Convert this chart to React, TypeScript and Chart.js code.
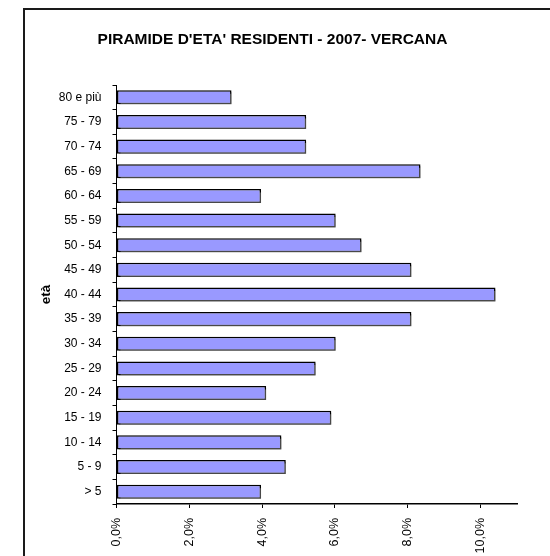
import React, { useEffect, useRef } from "react";
import { Chart, registerables } from "chart.js";

Chart.register(...registerables);

const TITLE = "PIRAMIDE D'ETA' RESIDENTI - 2007- VERCANA";
const AXIS_TITLE = "età";

const categories = [
  "80 e più",
  "75 - 79",
  "70 - 74",
  "65 - 69",
  "60 - 64",
  "55 - 59",
  "50 - 54",
  "45 - 49",
  "40 - 44",
  "35 - 39",
  "30 - 34",
  "25 - 29",
  "20 - 24",
  "15 - 19",
  "10 - 14",
  "5 - 9",
  "> 5",
];

const percentages = [
  3.16, 5.21, 5.21, 8.35, 3.97, 6.02, 6.73, 8.1, 10.41, 8.1, 6.02, 5.47, 4.11,
  5.9, 4.53, 4.65, 3.97,
];

const xMin = 0;
const xMax = 11;
const xStep = 2;

const FONT = "'Liberation Sans', Arial, Helvetica, sans-serif";

const framePlugin = {
  id: "frame",
  beforeDraw(chart: any) {
    const ctx = chart.ctx;
    ctx.save();
    ctx.fillStyle = "#ffffff";
    ctx.fillRect(0, 0, chart.width, chart.height);
    ctx.strokeStyle = "#1a1a1a";
    ctx.lineWidth = 2;
    ctx.beginPath();
    ctx.moveTo(24, chart.height + 5);
    ctx.lineTo(24, 9);
    ctx.lineTo(chart.width + 5, 9);
    ctx.stroke();
    ctx.restore();
  },
};

const shadowPlugin = {
  id: "barShadow",
  beforeDatasetsDraw(chart: any) {
    const ctx = chart.ctx;
    ctx.save();
    ctx.shadowColor = "rgba(120,120,120,0.6)";
    ctx.shadowOffsetX = 2;
    ctx.shadowOffsetY = 2;
    ctx.shadowBlur = 0;
  },
  afterDatasetsDraw(chart: any) {
    chart.ctx.restore();
  },
};

export default function App() {
  const canvasRef = useRef<HTMLCanvasElement | null>(null);

  useEffect(() => {
    if (!canvasRef.current) return;
    const chart = new Chart(canvasRef.current, {
      type: "bar",
      data: {
        labels: categories,
        datasets: [
          {
            data: percentages,
            backgroundColor: "#9999FF",
            borderColor: "#000000",
            borderWidth: 1.5,
            borderSkipped: false,
            barPercentage: 0.57,
            categoryPercentage: 1,
          },
        ],
      },
      options: {
        indexAxis: "y",
        responsive: false,
        animation: false,
        layout: { padding: { left: 28, right: 33, top: 0, bottom: 0 } },
        plugins: {
          legend: { display: false },
          tooltip: { enabled: false },
          title: {
            display: true,
            text: TITLE,
            color: "#000",
            font: { family: FONT, size: 15.5, weight: "bold" },
            padding: { top: 30, bottom: 36.4 },
          },
        },
        scales: {
          x: {
            type: "linear",
            min: xMin,
            max: xMax,
            ticks: {
              stepSize: xStep,
              includeBounds: false,
              autoSkip: false,
              minRotation: 90,
              maxRotation: 90,
              padding: 10,
              color: "#000",
              font: { family: FONT, size: 12.5 },
              callback: (v: any) => Number(v).toFixed(1).replace(".", ",") + "%",
            },
            grid: {
              drawOnChartArea: false,
              drawTicks: true,
              tickLength: 4,
              color: "#000",
            },
            border: { color: "#000", width: 1.5 },
            afterFit: (s: any) => {
              s.height = 52;
            },
          },
          y: {
            ticks: {
              color: "#000",
              padding: 11,
              font: { family: FONT, size: 12 },
            },
            grid: {
              drawOnChartArea: false,
              drawTicks: true,
              tickLength: 4,
              color: "#000",
              offset: true,
            },
            border: { color: "#000", width: 1 },
            title: {
              display: true,
              text: AXIS_TITLE,
              color: "#000",
              font: { family: FONT, size: 13.5, weight: "bold" },
              padding: { top: 10, bottom: 0 },
            },
            afterFit: (s: any) => {
              s.width = 88.5;
            },
          },
        },
      },
      plugins: [framePlugin, shadowPlugin],
    });
    return () => chart.destroy();
  }, []);

  return (
    <div style={{ position: "absolute", left: 0, top: 0, width: 550, height: 556 }}>
      <canvas ref={canvasRef} width={550} height={556} style={{ display: "block" }} />
    </div>
  );
}
